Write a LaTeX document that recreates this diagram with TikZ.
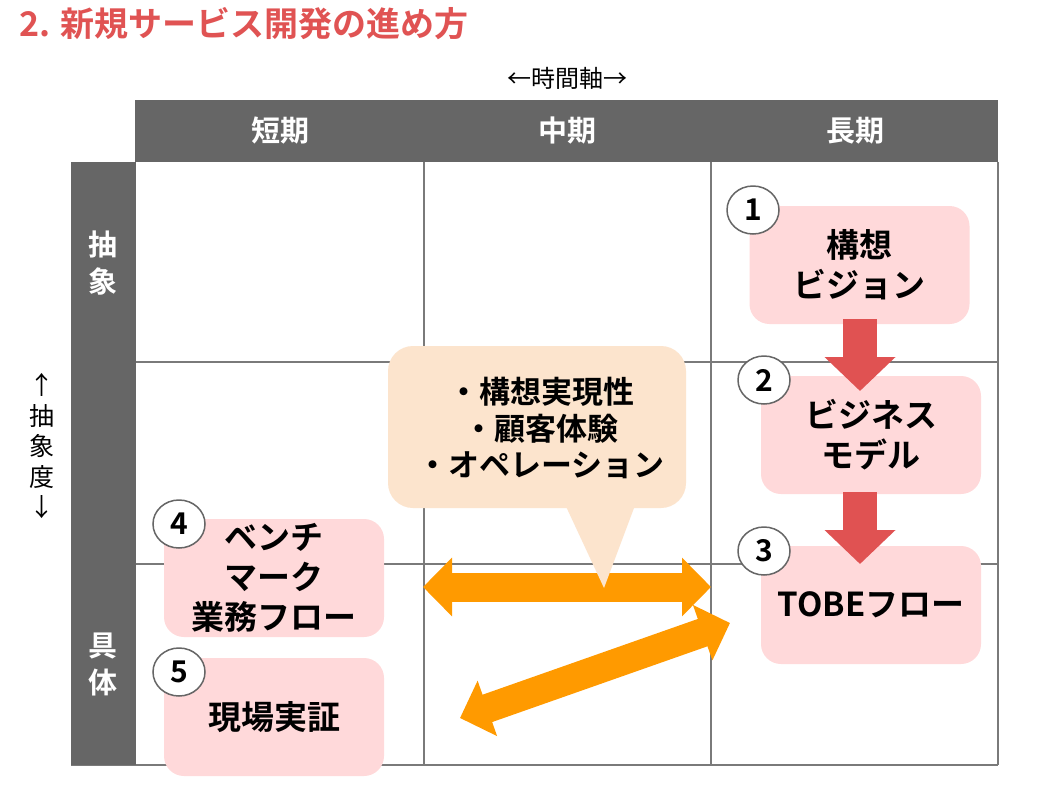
\documentclass[tikz,border=0pt]{standalone}
\usepackage{fontspec}
\setmainfont{Noto Sans CJK JP}[BoldFont={* Bold}]
\usetikzlibrary{shapes.geometric,arrows.meta}
\definecolor{titlered}{HTML}{E05353}
\definecolor{barGray}{HTML}{666666}
\definecolor{gridGray}{HTML}{7A7A7A}
\definecolor{boxPink}{HTML}{FFD9DA}
\definecolor{calloutPeach}{HTML}{FCE4CD}
\definecolor{arrowOrange}{HTML}{FF9A00}
\definecolor{arrowRed}{HTML}{E05252}
\begin{document}
\begin{tikzpicture}[x=1pt,y=-1pt,
  pinkbox/.style={fill=boxPink, rounded corners=20pt, minimum width=220pt, minimum height=118pt, align=center, inner sep=0pt, font=\fontsize{33}{40}\selectfont\bfseries},
  numcirc/.style={ellipse, draw=barGray, line width=1.5pt, fill=white, minimum width=52pt, minimum height=48pt, inner sep=0pt, font=\fontsize{30}{30}\selectfont\bfseries},
  gridline/.style={draw=gridGray, line width=2pt},
  headlabel/.style={text=white, align=center, inner sep=0pt, font=\fontsize{29}{37}\selectfont\bfseries},
  redarrow/.style={draw=arrowRed, line width=34pt, -{Triangle[width=69pt,length=34pt]}},
  orangearrow/.style={draw=arrowOrange, line width=29pt, {Triangle[width=57pt,length=29pt]}-{Triangle[width=57pt,length=29pt]}},
]
\useasboundingbox (0,0) rectangle (1044,798);
\fill[white] (0,0) rectangle (1044,798);

% title and axis labels
\node[anchor=west, inner sep=0pt, text=titlered, font=\fontsize{34}{34}\selectfont\bfseries] (title) at (19,24) {2. 新規サービス開発の進め方};
\node[inner sep=0pt, font=\fontsize{24}{24}\selectfont] (timeaxis) at (567,78) {←時間軸→};
\node[inner sep=0pt, align=center, font=\fontsize{25}{30.5}\selectfont] (absaxis) at (42,446) {↑\\抽\\象\\度\\↓};

% grid
\draw[gridline] (424,162) -- (424,765);
\draw[gridline] (711,162) -- (711,765);
\draw[gridline] (998,162) -- (998,765);
\draw[gridline] (136,362) -- (998,362);
\draw[gridline] (136,564) -- (998,564);
\draw[gridline] (71,765) -- (998,765);

% header and side bars
\fill[barGray] (135,100) rectangle (998,162);
\fill[barGray] (71,162) rectangle (136,765);
\node[headlabel] (short) at (280,131) {短期};
\node[headlabel] (mid) at (567,131) {中期};
\node[headlabel] (long) at (855,131) {長期};
\node[headlabel] (abstract) at (103,263) {抽\\象};
\node[headlabel] (concrete) at (103,664) {具\\体};

% boxes
\node[pinkbox] (box1) at (859.5,265) {構想\\ビジョン};
\node[pinkbox] (box2) at (871,435) {ビジネス\\モデル};
\node[pinkbox] (box3) at (871,605) {TOBEフロー};
\node[pinkbox] (box4) at (274,578) {ベンチ\\マーク\\業務フロー};
\node[pinkbox] (box5) at (274,717) {現場実証};

% number circles
\node[numcirc] (c1) at (753,210) {1};
\node[numcirc] (c2) at (764,380) {2};
\node[numcirc] (c3) at (764,551) {3};
\node[numcirc] (c4) at (179,524) {4};
\node[numcirc] (c5) at (179,672) {5};

% red arrows
\coordinate (r1s) at (860,319);
\coordinate (r1e) at (860,391);
\coordinate (r2s) at (860,492);
\coordinate (r2e) at (860,564);
\draw[redarrow] (r1s) -- (r1e);
\draw[redarrow] (r2s) -- (r2e);

% orange arrows
\coordinate (h1) at (423,587);
\coordinate (h2) at (711,587);
\coordinate (d1) at (460,718);
\coordinate (d2) at (730,623);
\draw[orangearrow] (h1) -- (h2);
\draw[orangearrow] (d1) -- (d2);

% callout
\coordinate (ctip) at (604,588);
\fill[calloutPeach] (563,500) -- (637,500) -- (ctip) -- cycle;
\fill[calloutPeach, rounded corners=25pt] (388,346) rectangle (686,508);
\node[inner sep=0pt, align=center, font=\fontsize{31}{36.5}\selectfont\bfseries] (callout) at (541,428) {・構想実現性\\・顧客体験\\・オペレーション};
\end{tikzpicture}
\end{document}
